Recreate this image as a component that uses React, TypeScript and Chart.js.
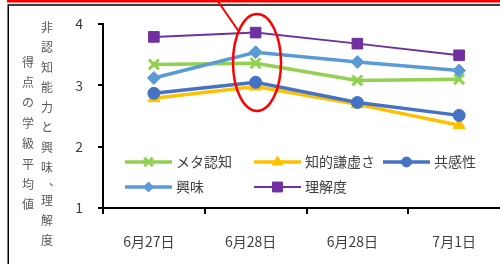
import React, { useEffect, useRef } from 'react';
import { Chart, registerables } from 'chart.js';
import { drawPoint } from 'chart.js/helpers';

Chart.register(...registerables);

const categories = ['6月27日', '6月28日', '6月28日', '7月1日'];
const seriesNames = ['メタ認知', '知的謙虚さ', '共感性', '興味', '理解度'];
const metaCognition = [3.34, 3.36, 3.08, 3.1];
const humility = [2.79, 2.98, 2.69, 2.35];
const empathy = [2.87, 3.05, 2.72, 2.51];
const interest = [3.12, 3.54, 3.38, 3.24];
const understanding = [3.79, 3.86, 3.68, 3.49];
const yMin = 1;
const yMax = 4;
const yStep = 1;
const yTitleOuter = '得点の学級平均値';
const yTitleInner = '非認知能力と興味、理解度';

const seriesValues = [metaCognition, humility, empathy, interest, understanding];

const FONT = '"Noto Sans CJK JP", "Noto Sans", sans-serif';

const styles = [
  { color: '#92D050', pointStyle: 'crossRot', radius: 7, pointBorderWidth: 3, lineWidth: 3.5, legendRadius: 6 },
  { color: '#FFC000', pointStyle: 'triangle', radius: 7, pointBorderWidth: 1, lineWidth: 3.5, legendRadius: 6 },
  { color: '#4472C4', pointStyle: 'circle', radius: 6, pointBorderWidth: 1, lineWidth: 3.5, legendRadius: 5 },
  { color: '#5B9BD5', pointStyle: 'rectRot', radius: 6.5, pointBorderWidth: 1, lineWidth: 3.5, legendRadius: 5 },
  { color: '#7030A0', pointStyle: 'rect', radius: 7.5, pointBorderWidth: 1, lineWidth: 2, legendRadius: 7 },
];

const legendLayout = [
  { x: 125, y: 162 },
  { x: 254, y: 162 },
  { x: 383, y: 162 },
  { x: 125, y: 187 },
  { x: 254, y: 187 },
];

const overlayPlugin = {
  id: 'overlay',
  afterDraw(chart: any) {
    const ctx: CanvasRenderingContext2D = chart.ctx;
    ctx.save();

    // legend
    seriesNames.forEach((name, i) => {
      const s = styles[i];
      const p = legendLayout[i];
      ctx.strokeStyle = s.color;
      ctx.lineWidth = s.lineWidth;
      ctx.beginPath();
      ctx.moveTo(p.x, p.y);
      ctx.lineTo(p.x + 47, p.y);
      ctx.stroke();
      ctx.fillStyle = s.color;
      ctx.strokeStyle = s.color;
      ctx.lineWidth = s.pointBorderWidth;
      drawPoint(ctx, { pointStyle: s.pointStyle, radius: s.legendRadius, rotation: 0, borderWidth: s.pointBorderWidth } as any, p.x + 23.5, p.y);
      ctx.fillStyle = '#404040';
      ctx.font = `14px ${FONT}`;
      ctx.textAlign = 'left';
      ctx.textBaseline = 'middle';
      ctx.fillText(name, p.x + 51, p.y);
    });

    // y axis title (vertical)
    ctx.fillStyle = '#595959';
    ctx.font = `12px ${FONT}`;
    ctx.textAlign = 'center';
    ctx.textBaseline = 'middle';
    Array.from(yTitleOuter).forEach((ch, i) => {
      ctx.fillText(ch, 28, 62 + i * 20.4);
    });
    let yy = 27;
    Array.from(yTitleInner).forEach((ch) => {
      if (ch === '、') {
        ctx.fillText(ch, 55, yy - 6);
        yy += 13;
      } else {
        ctx.fillText(ch, 47, yy);
        yy += 20;
      }
    });

    // frame
    ctx.strokeStyle = '#000';
    ctx.lineWidth = 1.5;
    ctx.beginPath();
    ctx.moveTo(8.25, 270);
    ctx.lineTo(8.25, 5);
    ctx.lineTo(520, 5);
    ctx.stroke();

    // red annotation
    ctx.strokeStyle = '#FF0000';
    ctx.lineWidth = 2.5;
    ctx.beginPath();
    ctx.moveTo(7, 1.2);
    ctx.lineTo(520, 1.2);
    ctx.stroke();
    ctx.lineWidth = 2;
    ctx.beginPath();
    ctx.moveTo(217, 0);
    ctx.lineTo(238.5, 31);
    ctx.stroke();
    ctx.lineWidth = 2.5;
    ctx.beginPath();
    ctx.ellipse(257, 62.5, 24, 48.5, 0, 0, Math.PI * 2);
    ctx.stroke();

    ctx.restore();
  },
};

export default function App() {
  const canvasRef = useRef<HTMLCanvasElement | null>(null);

  useEffect(() => {
    document.body.style.margin = '0';
    document.body.style.overflow = 'hidden';
    document.documentElement.style.overflow = 'hidden';
    const canvas = canvasRef.current;
    if (!canvas) return;
    const chart = new Chart(canvas, {
      type: 'line',
      data: {
        labels: categories,
        datasets: seriesNames.map((name, i) => ({
          label: name,
          data: seriesValues[i],
          borderColor: styles[i].color,
          backgroundColor: styles[i].color,
          borderWidth: styles[i].lineWidth,
          pointStyle: styles[i].pointStyle as any,
          pointRadius: styles[i].radius,
          pointHoverRadius: styles[i].radius,
          pointBorderWidth: styles[i].pointBorderWidth,
          pointBackgroundColor: styles[i].color,
          pointBorderColor: styles[i].color,
          tension: 0,
          fill: false,
          order: seriesNames.length - i,
        })),
      },
      options: {
        responsive: false,
        animation: false,
        events: [],
        layout: { padding: { top: 24, right: 8, bottom: 0, left: 0 } },
        plugins: {
          legend: { display: false },
          tooltip: { enabled: false },
          title: { display: false },
        },
        scales: {
          x: {
            type: 'category',
            offset: true,
            grid: {
              display: true,
              offset: true,
              drawOnChartArea: false,
              drawTicks: true,
              tickLength: 6,
              color: '#000',
              lineWidth: 2,
            },
            border: { display: true, color: '#000', width: 2 },
            ticks: {
              color: '#404040',
              font: { family: FONT, size: 14 },
              padding: 19,
              labelOffset: -5,
              maxRotation: 0,
              autoSkip: false,
            },
            afterFit: (s: any) => {
              s.height = 56;
            },
          },
          y: {
            min: yMin,
            max: yMax,
            grid: {
              display: true,
              drawOnChartArea: false,
              drawTicks: true,
              tickLength: 5,
              color: '#000',
              lineWidth: 2,
            },
            border: { display: true, color: '#000', width: 2 },
            ticks: {
              stepSize: yStep,
              color: '#404040',
              font: { family: FONT, size: 14 },
              padding: 15,
            },
            afterFit: (s: any) => {
              s.width = 103;
            },
          },
        },
      },
      plugins: [overlayPlugin],
    });
    return () => chart.destroy();
  }, []);

  return (
    <div style={{ width: 520, height: 264, overflow: 'hidden' }}>
      <canvas ref={canvasRef} width={520} height={264} style={{ display: 'block', width: 520, height: 264 }} />
    </div>
  );
}
